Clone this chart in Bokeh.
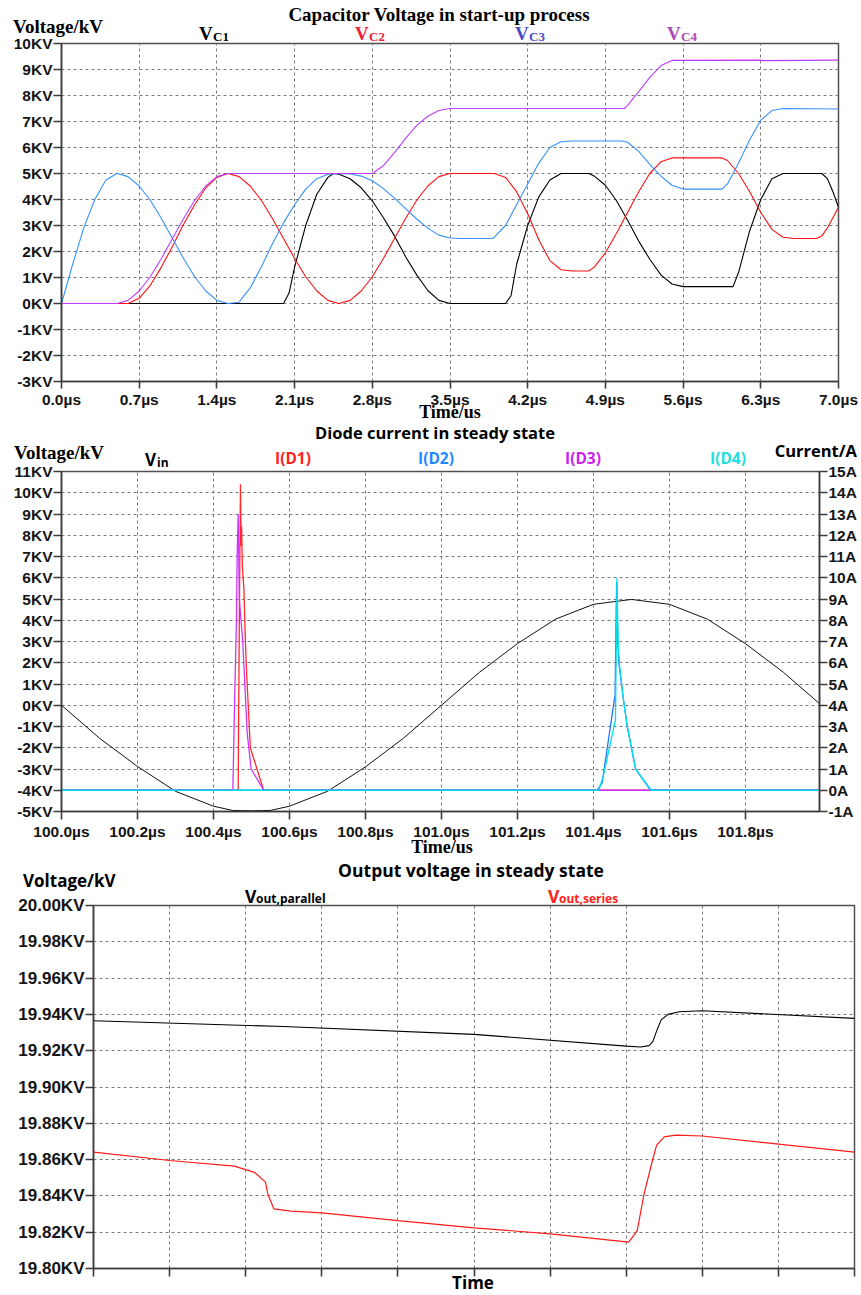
from bokeh.plotting import figure
from bokeh.models import Range1d, LinearAxis, FixedTicker, Div
from bokeh.layouts import column
from bokeh.embed import file_html
from bokeh.resources import INLINE

# ---------------- Chart 1 : Capacitor voltage in start-up process ----------------
c1_x_ticks = [0.0, 0.7, 1.4, 2.1, 2.8, 3.5, 4.2, 4.9, 5.6, 6.3, 7.0]
c1_x_labels = ["0.0µs", "0.7µs", "1.4µs", "2.1µs", "2.8µs", "3.5µs", "4.2µs", "4.9µs", "5.6µs", "6.3µs", "7.0µs"]
c1_y_ticks = [10, 9, 8, 7, 6, 5, 4, 3, 2, 1, 0, -1, -2, -3]
c1_y_labels = ["10KV", "9KV", "8KV", "7KV", "6KV", "5KV", "4KV", "3KV", "2KV", "1KV", "0KV", "-1KV", "-2KV", "-3KV"]
c1_series = ["VC1", "VC2", "VC3", "VC4"]

vc1 = [(0.0, 0.0), (2.0, 0.0), (2.05, 0.4), (2.1, 1.4), (2.2, 3.0), (2.3, 4.2), (2.4, 4.85), (2.45, 5.0),
       (2.5, 4.97), (2.6, 4.8), (2.7, 4.45), (2.8, 3.95), (2.9, 3.3), (3.0, 2.6), (3.1, 1.8), (3.2, 1.1),
       (3.3, 0.5), (3.4, 0.12), (3.5, 0.0), (4.0, 0.0), (4.05, 0.3), (4.1, 1.5), (4.2, 3.0), (4.3, 4.1),
       (4.4, 4.75), (4.5, 5.0), (4.75, 5.0), (4.8, 4.9), (4.9, 4.55), (5.0, 3.95), (5.1, 3.2), (5.2, 2.4),
       (5.3, 1.7), (5.4, 1.1), (5.5, 0.75), (5.6, 0.65), (6.05, 0.65), (6.1, 1.2), (6.2, 2.8), (6.3, 4.0),
       (6.4, 4.8), (6.5, 5.0), (6.85, 5.0), (6.9, 4.8), (6.95, 4.3), (7.0, 3.7)]
vc2 = [(0.0, 0.0), (0.6, 0.0), (0.7, 0.2), (0.8, 0.7), (0.9, 1.4), (1.0, 2.2), (1.1, 3.05), (1.2, 3.8),
       (1.3, 4.45), (1.4, 4.85), (1.5, 5.0), (1.6, 4.88), (1.7, 4.52), (1.8, 3.97), (1.9, 3.27), (2.0, 2.5),
       (2.1, 1.73), (2.2, 1.03), (2.3, 0.48), (2.4, 0.12), (2.5, 0.0), (2.6, 0.12), (2.7, 0.48), (2.8, 1.03),
       (2.9, 1.73), (3.0, 2.5), (3.1, 3.27), (3.2, 3.97), (3.3, 4.52), (3.4, 4.88), (3.5, 5.0), (3.9, 5.0),
       (4.0, 4.85), (4.1, 4.3), (4.2, 3.45), (4.3, 2.45), (4.4, 1.65), (4.5, 1.3), (4.6, 1.25), (4.75, 1.25),
       (4.8, 1.4), (4.9, 1.95), (5.0, 2.7), (5.1, 3.5), (5.2, 4.3), (5.3, 5.0), (5.4, 5.45), (5.5, 5.6),
       (5.95, 5.6), (6.0, 5.5), (6.1, 5.0), (6.2, 4.3), (6.3, 3.5), (6.4, 2.85), (6.5, 2.55), (6.6, 2.5),
       (6.8, 2.5), (6.85, 2.6), (6.9, 2.9), (7.0, 3.7)]
vc3 = [(0.0, 0.0), (0.1, 1.5), (0.2, 2.9), (0.3, 4.0), (0.4, 4.75), (0.5, 5.0), (0.6, 4.88), (0.7, 4.52),
       (0.8, 3.97), (0.9, 3.27), (1.0, 2.5), (1.1, 1.73), (1.2, 1.03), (1.3, 0.48), (1.4, 0.12), (1.5, 0.0),
       (1.6, 0.05), (1.7, 0.6), (1.8, 1.4), (1.9, 2.3), (2.0, 3.1), (2.1, 3.8), (2.2, 4.4), (2.3, 4.8),
       (2.4, 4.97), (2.5, 5.0), (2.6, 4.98), (2.7, 4.9), (2.8, 4.72), (2.9, 4.42), (3.0, 4.05), (3.1, 3.65),
       (3.2, 3.25), (3.3, 2.9), (3.4, 2.63), (3.5, 2.52), (3.6, 2.5), (3.88, 2.5), (3.9, 2.55), (4.0, 3.0),
       (4.1, 3.8), (4.2, 4.6), (4.3, 5.4), (4.4, 6.0), (4.5, 6.22), (4.6, 6.25), (5.05, 6.25), (5.1, 6.2),
       (5.2, 5.85), (5.3, 5.35), (5.4, 4.9), (5.5, 4.55), (5.6, 4.4), (5.95, 4.4), (6.0, 4.6), (6.1, 5.4),
       (6.2, 6.3), (6.3, 7.05), (6.4, 7.42), (6.5, 7.5), (7.0, 7.48)]
vc4 = [(0.0, 0.0), (0.5, 0.0), (0.6, 0.12), (0.7, 0.48), (0.8, 1.03), (0.9, 1.73), (1.0, 2.5), (1.1, 3.27),
       (1.2, 3.97), (1.3, 4.52), (1.4, 4.88), (1.5, 5.0), (2.8, 5.0), (2.9, 5.3), (3.0, 5.8), (3.1, 6.35),
       (3.2, 6.85), (3.3, 7.2), (3.4, 7.42), (3.5, 7.5), (5.07, 7.5), (5.1, 7.62), (5.2, 8.15), (5.3, 8.7),
       (5.4, 9.15), (5.5, 9.35), (6.3, 9.36), (6.32, 9.34), (7.0, 9.36)]

# ---------------- Chart 2 : Diode current in steady state ----------------
c2_x_ticks = [100.0, 100.2, 100.4, 100.6, 100.8, 101.0, 101.2, 101.4, 101.6, 101.8]
c2_x_labels = ["100.0µs", "100.2µs", "100.4µs", "100.6µs", "100.8µs", "101.0µs", "101.2µs", "101.4µs", "101.6µs", "101.8µs"]
c2_y_ticks = [11, 10, 9, 8, 7, 6, 5, 4, 3, 2, 1, 0, -1, -2, -3, -4, -5]
c2_y_labels = ["11KV", "10KV", "9KV", "8KV", "7KV", "6KV", "5KV", "4KV", "3KV", "2KV", "1KV", "0KV",
               "-1KV", "-2KV", "-3KV", "-4KV", "-5KV"]
c2_r_ticks = [15, 14, 13, 12, 11, 10, 9, 8, 7, 6, 5, 4, 3, 2, 1, 0, -1]
c2_r_labels = ["15A", "14A", "13A", "12A", "11A", "10A", "9A", "8A", "7A", "6A", "5A", "4A", "3A", "2A", "1A", "0A", "-1A"]
c2_series = ["Vin", "I(D1)", "I(D2)", "I(D3)", "I(D4)"]

vin = [(100.0, 0.0), (100.1, -1.55), (100.2, -2.88), (100.3, -4.05), (100.4, -4.75), (100.45, -4.95),
       (100.5, -4.97), (100.55, -4.95), (100.6, -4.75), (100.7, -4.05), (100.8, -2.9), (100.9, -1.55),
       (101.0, 0.0), (101.1, 1.55), (101.2, 2.9), (101.3, 4.05), (101.4, 4.75), (101.5, 4.98),
       (101.6, 4.75), (101.7, 4.05), (101.8, 2.9), (101.9, 1.55), (102.0, 0.0)]
id1 = [(100.0, 0.0), (100.465, 0.0), (100.468, 8.0), (100.471, 14.4), (100.473, 11.5), (100.474, 12.4),
       (100.476, 10.5), (100.480, 9.5), (100.484, 7.0), (100.487, 5.6), (100.497, 2.0), (100.532, 0.0),
       (102.0, 0.0)]
id2 = [(100.0, 0.0), (101.410, 0.0), (101.423, 0.35), (101.457, 4.5), (101.461, 9.8), (101.464, 7.0),
       (101.467, 6.0), (101.478, 4.4), (101.489, 3.0), (101.511, 1.0), (101.550, 0.0), (102.0, 0.0)]
id3 = [(100.0, 0.0), (100.451, 0.0), (100.456, 4.5), (100.4605, 8.0), (100.4625, 11.2), (100.465, 13.0),
       (100.468, 9.0), (100.477, 7.0), (100.4887, 2.7), (100.4992, 1.0), (100.532, 0.0), (102.0, 0.0)]
id4 = [(100.0, 0.0), (101.414, 0.0), (101.425, 0.6), (101.458, 3.3), (101.462, 10.0), (101.465, 7.0),
       (101.468, 6.0), (101.478, 4.4), (101.489, 3.0), (101.511, 1.0), (101.552, 0.0), (102.0, 0.0)]

# ---------------- Chart 3 : Output voltage in steady state ----------------
c3_x_ticks = [100.0, 100.2, 100.4, 100.6, 100.8, 101.0, 101.2, 101.4, 101.6, 101.8, 102.0]
c3_y_ticks = [20.00, 19.98, 19.96, 19.94, 19.92, 19.90, 19.88, 19.86, 19.84, 19.82, 19.80]
c3_y_labels = ["20.00KV", "19.98KV", "19.96KV", "19.94KV", "19.92KV", "19.90KV", "19.88KV", "19.86KV",
               "19.84KV", "19.82KV", "19.80KV"]
c3_series = ["out,parallel", "out,series"]

vpar = [(100.0, 19.9365), (100.5, 19.9333), (101.0, 19.9290), (101.40, 19.9225), (101.438, 19.9220),
        (101.460, 19.9228), (101.470, 19.9250), (101.482, 19.9320), (101.492, 19.9370), (101.51, 19.9400),
        (101.54, 19.9415), (101.6, 19.9420), (102.0, 19.9378)]
vser = [(100.0, 19.8641), (100.2, 19.8595), (100.37, 19.8564), (100.40, 19.8545), (100.423, 19.8530),
        (100.452, 19.8476), (100.458, 19.8411), (100.474, 19.8329), (100.519, 19.8316), (100.6, 19.8306),
        (100.8, 19.8264), (101.0, 19.8224), (101.2, 19.8191), (101.407, 19.8145), (101.429, 19.8209),
        (101.447, 19.8411), (101.469, 19.8595), (101.48, 19.8680), (101.5, 19.8725), (101.53, 19.8735),
        (101.6, 19.8730), (102.0, 19.8641)]

SERIF = "Liberation Serif"
SANS = "Liberation Sans"
HUM = "Open Sans"
W, H = 861, 1295


def xs(pairs):
    return [a for a, b in pairs]


def ys(pairs):
    return [b for a, b in pairs]


def style_axis(ax, ticks, labels, size, tick_out=8, standoff=2):
    ax.ticker = FixedTicker(ticks=ticks)
    if labels is not None:
        ax.major_label_overrides = dict(zip(ticks, labels))
    ax.axis_line_color = "#3c3c3c"
    ax.axis_line_width = 1.6
    ax.major_tick_line_color = "#3c3c3c"
    ax.major_tick_line_width = 1.6
    ax.major_tick_in = 0
    ax.major_tick_out = tick_out
    ax.minor_tick_line_color = None
    ax.major_label_text_font = SANS
    ax.major_label_text_font_style = "bold"
    ax.major_label_text_font_size = size
    ax.major_label_text_color = "#151515"
    ax.major_label_standoff = standoff


def make_fig(height, xr, yr, left, right, top, bottom, xt, yt):
    p = figure(width=W, height=height, x_range=xr, y_range=yr, output_backend="svg",
               toolbar_location=None, min_border_left=left, min_border_right=right,
               min_border_top=top, min_border_bottom=bottom)
    p.frame_align = False
    p.xgrid.ticker = FixedTicker(ticks=xt)
    p.ygrid.ticker = FixedTicker(ticks=yt)
    for g in (p.xgrid, p.ygrid):
        g.grid_line_color = "#7a7a7a"
        g.grid_line_dash = "3 3"
        g.grid_line_width = 1
    p.outline_line_color = "#505050"
    p.outline_line_width = 1.5
    p.outline_line_alpha = 1.0
    p.background_fill_color = "white"
    p.border_fill_color = "white"
    return p


# ---------- figure 1 (page y 0..425) ----------
p1 = make_fig(425, Range1d(0, 7), Range1d(-3, 10), 61, 23, 43, 44, c1_x_ticks, c1_y_ticks)
style_axis(p1.xaxis[0], c1_x_ticks, c1_x_labels, "15.5px", tick_out=7)
style_axis(p1.yaxis[0], c1_y_ticks, c1_y_labels, "15.5px", standoff=1)
c1_line_colors = ["#000000", "#ff1010", "#3392ff", "#c03cff"]
for pairs, col in zip([vc1, vc2, vc3, vc4], c1_line_colors):
    p1.line(xs(pairs), ys(pairs), line_color=col, line_width=1.1)

# ---------- figure 2 (page y 425..860) ----------
p2 = make_fig(435, Range1d(100.0, 101.995), Range1d(-5, 11), 61, 42, 46, 49, c2_x_ticks, c2_y_ticks)
p2.extra_y_ranges = {"cur": Range1d(-1, 15)}
style_axis(p2.xaxis[0], c2_x_ticks, c2_x_labels, "15.5px", standoff=3)
style_axis(p2.yaxis[0], c2_y_ticks, c2_y_labels, "15.5px", standoff=1)
rax = LinearAxis(y_range_name="cur")
style_axis(rax, c2_r_ticks, c2_r_labels, "15.5px", standoff=1)
p2.add_layout(rax, "right")
p2.line(xs(vin), ys(vin), line_color="#111111", line_width=1.0)
c2_line_colors = ["#ff2a2a", "#1e78ff", "#cc33ff", "#00e0e8"]
for pairs, col in zip([id1, id2, id3, id4], c2_line_colors):
    p2.line(xs(pairs), ys(pairs), line_color=col, line_width=1.3, y_range_name="cur")

# ---------- figure 3 (page y 860..1295) ----------
p3 = make_fig(435, Range1d(100.0, 102.0), Range1d(19.80, 20.00), 93, 7, 45, 27, c3_x_ticks, c3_y_ticks)
style_axis(p3.xaxis[0], c3_x_ticks, None, "1px")
p3.xaxis.major_label_text_color = None
style_axis(p3.yaxis[0], c3_y_ticks, c3_y_labels, "17px", standoff=1)
p3.line(xs(vpar), ys(vpar), line_color="#000000", line_width=1.1)
p3.line(xs(vser), ys(vser), line_color="#ff1a1a", line_width=1.2)

# ---------- texts around the plot areas (page pixel positions) ----------
BASE = {SERIF: 0.8375, SANS: 0.8465, HUM: 0.888}


def span(x, baseline, txt, font, size, color="#000000", align="left"):
    top = baseline - BASE[font] * size
    if align == "center":
        pos = "left:%.1fpx;transform:translateX(-50%%);" % x
    elif align == "right":
        pos = "right:%.1fpx;" % (W - x)
    else:
        pos = "left:%.1fpx;" % x
    return ('<span style="position:absolute;%stop:%.1fpx;font-family:\'%s\';font-weight:bold;'
            'font-size:%spx;line-height:1;color:%s;white-space:nowrap;">%s</span>'
            % (pos, top, font, size, color, txt))


parts = []
# chart 1
parts.append(span(439, 21, "Capacitor Voltage in start-up process", SERIF, 19, align="center"))
parts.append(span(13, 33, "Voltage/kV", SERIF, 19))
c1_label_colors = ["#000000", "#f0203a", "#4a4ac8", "#b048b8"]
for name, col, left in zip(c1_series, c1_label_colors, [199, 355, 515, 667]):
    parts.append(span(left, 40, name[0], SERIF, 19, col))
    parts.append(span(left + 14, 41, name[1:], SERIF, 13, col))
parts.append(span(450, 418, "Time/us", SERIF, 18, align="center"))
# chart 2
parts.append(span(435, 440, "Diode current in steady state", HUM, 16.5, align="center"))
parts.append(span(14, 459, "Voltage/kV", SERIF, 19))
parts.append(span(145, 466, c2_series[0][0], HUM, 17))
parts.append(span(157, 468, c2_series[0][1:], HUM, 12))
c2_label_colors = ["#ff2020", "#2288ff", "#cc22ee", "#22dddd"]
for name, col, left in zip(c2_series[1:], c2_label_colors, [275, 418, 565, 710]):
    parts.append(span(left, 465, name, HUM, 15.5, col))
parts.append(span(857, 458, "Current/A", HUM, 16.5, align="right"))
parts.append(span(442, 853, "Time/us", SERIF, 18, align="center"))
# chart 3
parts.append(span(471, 877, "Output voltage in steady state", HUM, 17.5, align="center"))
parts.append(span(23, 887, "Voltage/kV", HUM, 17))
for name, col, left in zip(c3_series, ["#000000", "#ff2020"], [245, 548]):
    parts.append(span(left, 903, "V", HUM, 17.5, col))
    parts.append(span(left + 11, 904, name, HUM, 12, col))
parts.append(span(473, 1289, "Time", HUM, 17, align="center"))

overlay = Div(text='<div style="position:relative;width:%dpx;height:%dpx;">%s</div>' % (W, H, "".join(parts)),
              width=W, height=H, margin=(-H, 0, 0, 0))

layout = column(p1, p2, p3, overlay, spacing=0)
open("out.html", "w").write(file_html(layout, INLINE))
